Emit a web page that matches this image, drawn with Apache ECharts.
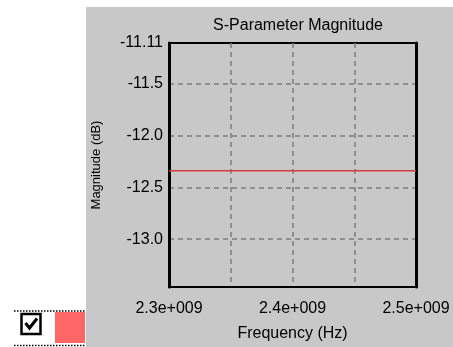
<!DOCTYPE html>
<html>
<head>
<meta charset="utf-8">
<script src="https://cdn.jsdelivr.net/npm/echarts@6/dist/echarts.min.js"></script>
<style>
html,body{margin:0;padding:0;background:#fff;}
#c{width:453px;height:347px;}
</style>
</head>
<body>
<div id="c"></div>
<script>
// Data
var titleText = "S-Parameter Magnitude";
var xName = "Frequency (Hz)";
var yName = "Magnitude (dB)";
var frequency = [2.3e9, 2.35e9, 2.4e9, 2.45e9, 2.5e9];
var magnitude = [-12.34, -12.34, -12.34, -12.34, -12.34];
var xTickLabels = [2.3e9, 2.4e9, 2.5e9];
var yTickLabels = [-13.0, -12.5, -12.0, -11.5, -11.11];
var yGridValues = [-13.0, -12.5, -12.0, -11.5];
var xMin = 2.3e9, xMax = 2.5e9, xStep = 0.05e9;
var yMin = -13.46, yMax = -11.11;

var FONT = '"Liberation Sans", Arial, sans-serif';
var chart = echarts.init(document.getElementById('c'), null, {renderer: 'canvas'});

function fmtX(v) {
  for (var i = 0; i < xTickLabels.length; i++) {
    if (Math.abs(v - xTickLabels[i]) < 1) {
      return (v / 1e9).toFixed(1) + 'e+009';
    }
  }
  return '';
}
function fmtY(v) {
  if (Math.abs(v - (-11.11)) < 1e-6) return '-11.11';
  return v.toFixed(1);
}

var gridLineStyle = {color: '#7c7c7c', type: [5, 4], width: 1.5};

chart.setOption({
  animation: false,
  backgroundColor: '#ffffff',
  title: {
    text: titleText,
    left: 293,
    top: 13,
    textAlign: 'center',
    textStyle: {fontFamily: FONT, fontSize: 16, fontWeight: 'normal', color: '#000'}
  },
  graphic: [
    {type: 'rect', z: -10, silent: true, shape: {x: 86, y: 7, width: 367, height: 340}, style: {fill: '#c8c8c8'}},
    {type: 'line', shape: {x1: 14, y1: 311, x2: 86, y2: 311}, style: {stroke: '#000', lineWidth: 1.5, lineDash: [1.5, 1.5]}},
    {type: 'line', shape: {x1: 14, y1: 345.5, x2: 86, y2: 345.5}, style: {stroke: '#000', lineWidth: 1.5, lineDash: [1.5, 1.5]}},
    {type: 'rect', shape: {x: 21.5, y: 314, width: 19, height: 20}, style: {fill: '#fff', stroke: '#000', lineWidth: 2.5}},
    {type: 'polyline', shape: {points: [[25.5, 323], [29.5, 328], [37, 318.5]]}, style: {stroke: '#000', lineWidth: 3, fill: null}},
    {type: 'rect', shape: {x: 55, y: 312, width: 30, height: 31}, style: {fill: '#ff6666'}}
  ],
  grid: {
    left: 169, top: 43, right: 37, bottom: 56,
    show: true, borderColor: '#000', borderWidth: 2, backgroundColor: 'transparent'
  },
  xAxis: {
    type: 'value',
    min: xMin, max: xMax, interval: xStep,
    name: xName, nameLocation: 'middle', nameGap: 39,
    nameTextStyle: {fontFamily: FONT, fontSize: 16, color: '#000'},
    axisLine: {show: true, lineStyle: {color: '#000', width: 2}},
    axisTick: {show: false},
    axisLabel: {formatter: fmtX, margin: 14, fontFamily: FONT, fontSize: 16, color: '#000', showMinLabel: true, showMaxLabel: true},
    splitLine: {show: true, lineStyle: gridLineStyle}
  },
  yAxis: [{
    type: 'value',
    min: yMin, max: yMax,
    name: yName, nameLocation: 'middle', nameGap: 66,
    nameTextStyle: {fontFamily: FONT, fontSize: 13, color: '#000'},
    axisLine: {show: true, lineStyle: {color: '#000', width: 3}},
    axisTick: {show: false, customValues: yGridValues},
    axisLabel: {customValues: yTickLabels, formatter: fmtY, margin: 6, fontFamily: FONT, fontSize: 16, color: '#000'},
    splitLine: {show: true, lineStyle: gridLineStyle}
  }, {
    type: 'value', position: 'right',
    min: yMin, max: yMax,
    axisLine: {show: true, lineStyle: {color: '#000', width: 3}},
    axisTick: {show: false}, axisLabel: {show: false}, splitLine: {show: false}
  }],
  series: [{
    type: 'line',
    data: frequency.map(function (f, i) { return [f, magnitude[i]]; }),
    showSymbol: false,
    lineStyle: {color: '#d23c3c', width: 1.5},
    itemStyle: {color: '#d23c3c'}
  }]
});
</script>
</body>
</html>
